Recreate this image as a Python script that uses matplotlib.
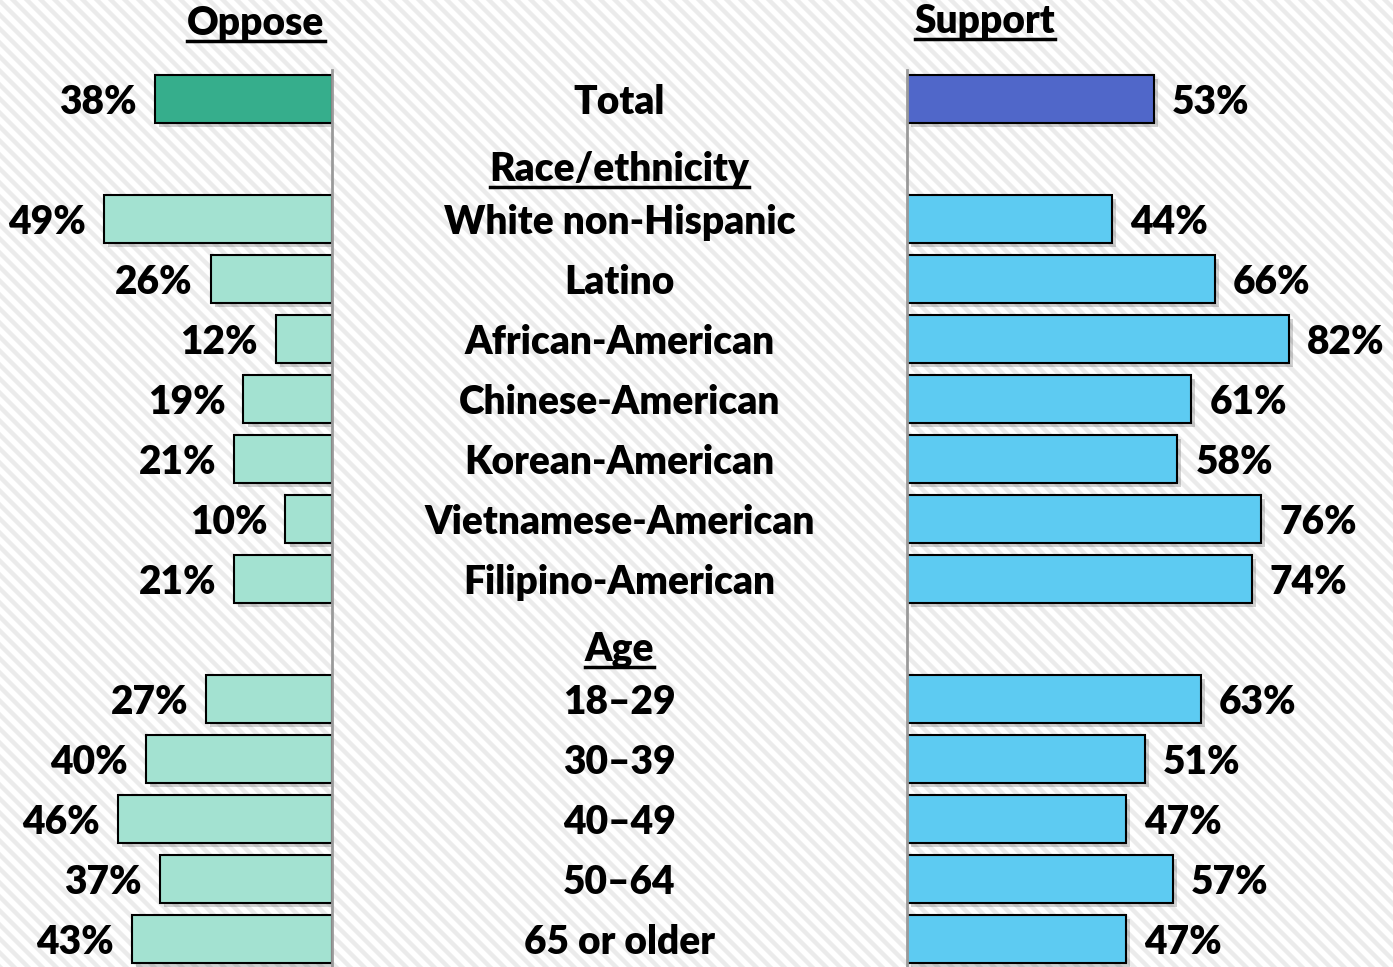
import numpy as np
from matplotlib import pyplot as plt
from matplotlib.lines import Line2D
import matplotlib.patheffects as pe

# rows: first group has no header
groups = [
    ("", ["Total"]),
    ("Race/ethnicity", ["White non-Hispanic", "Latino", "African-American",
                        "Chinese-American", "Korean-American",
                        "Vietnamese-American", "Filipino-American"]),
    ("Age", ["18\u201329", "30\u201339", "40\u201349", "50\u201364", "65 or older"]),
]
oppose = [38, 49, 26, 12, 19, 21, 10, 21, 27, 40, 46, 37, 43]
support = [53, 44, 66, 82, 61, 58, 76, 74, 63, 51, 47, 57, 47]

OPP_TOTAL = "#36ae8c"
OPP = "#a3e2d1"
SUP_TOTAL = "#5067c9"
SUP = "#5dcbf2"
FONT = "Lato"
WGT = "heavy"

# work out row positions (headers take a row of their own)
labels, ypos, headers = [], [], []
row = 0
for head, items in groups:
    if head:
        headers.append((head, row))
        row += 1
    for it in items:
        labels.append(it)
        ypos.append(row)
        row += 1
ypos = np.array(ypos)

W, H = 1393, 967
fig = plt.figure(figsize=(W / 100, H / 100), dpi=100)
fig.patch.set_facecolor("white")

# striped background
sp = 0.14
for c in np.arange(-H / 100, W / 100 + 0.5, sp):
    fig.add_artist(Line2D([c, c + H / 100], [H / 100, 0], transform=fig.dpi_scale_trans,
                          color="#ebebeb", lw=3.2, zorder=0))

px = 4.66          # pixels per percent
top_px, zl, zr = 70, 332, 907
ytop = (top_px - 99) / 60
ybot = (H - 99) / 60
ax_h = (H - top_px) / H

axl = fig.add_axes([0, 0, zl / W, ax_h])
axm = fig.add_axes([zl / W, 0, (zr - zl) / W, ax_h])
axr = fig.add_axes([zr / W, 0, (W - zr) / W, ax_h])
for a in (axl, axm, axr):
    a.set_ylim(ybot, ytop)
    a.patch.set_visible(False)
    a.set_xticks([])
    a.set_yticks([])
    for s in a.spines.values():
        s.set_visible(False)
axl.set_xlim(zl / px, 0)
axr.set_xlim(0, (W - zr) / px)
axm.set_xlim(0, 1)
axl.spines["right"].set_visible(True)
axl.spines["right"].set_color("#9a9a9a")
axl.spines["right"].set_linewidth(2)
axr.spines["left"].set_visible(True)
axr.spines["left"].set_color("#9a9a9a")
axr.spines["left"].set_linewidth(2)

shadow = [pe.SimplePatchShadow(offset=(3, -3), shadow_rgbFace="k", alpha=0.18), pe.Normal()]
ocol = [OPP_TOTAL] + [OPP] * (len(oppose) - 1)
scol = [SUP_TOTAL] + [SUP] * (len(support) - 1)
bl = axl.barh(ypos, oppose, height=0.8, color=ocol, edgecolor="black", lw=1.5, zorder=2)
br = axr.barh(ypos, support, height=0.8, color=scol, edgecolor="black", lw=1.5, zorder=2)
for b in list(bl) + list(br):
    b.set_path_effects(shadow)

fs = 28
for y, v in zip(ypos, oppose):
    axl.annotate(f"{v}%", (v, y + 0.06), xytext=(-13, 0), textcoords="offset points",
                 ha="right", va="center", fontsize=fs, fontweight=WGT, family=FONT)
for y, v in zip(ypos, support):
    axr.annotate(f"{v}%", (v, y + 0.06), xytext=(13, 0), textcoords="offset points",
                 ha="left", va="center", fontsize=fs, fontweight=WGT, family=FONT)
for y, lab in zip(ypos, labels):
    axm.text(0.5, y + 0.06, lab, ha="center", va="center", fontsize=fs,
             fontweight=WGT, family=FONT)

under = []
for head, r in headers:
    under.append(axm.text(0.5, r + 0.17, head, ha="center", va="center", fontsize=fs,
                          fontweight=WGT, family=FONT))
under.append(fig.text(256 / W, 1 - 23 / H, "Oppose", ha="center", va="center",
                      fontsize=fs, fontweight=WGT, family=FONT))
under.append(fig.text(985 / W, 1 - 21 / H, "Support", ha="center", va="center",
                      fontsize=fs, fontweight=WGT, family=FONT))

# underline the headers
fig.canvas.draw()
r = fig.canvas.get_renderer()
for t in under:
    bb = t.get_window_extent(r)
    yy = bb.y0 + 1
    fig.add_artist(Line2D([bb.x0, bb.x1], [yy, yy], transform=None, color="black", lw=2.5))

fig.savefig("out.png", dpi=100)
